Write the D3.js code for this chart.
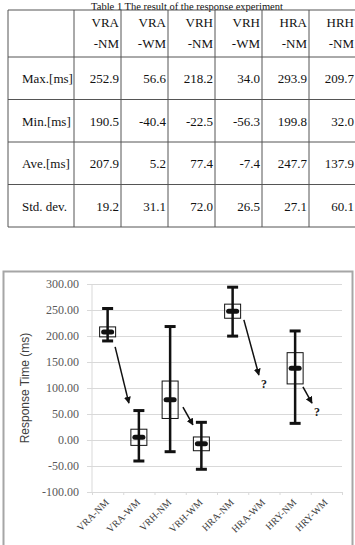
<!DOCTYPE html>
<html>
<head>
<meta charset="utf-8">
<script src="https://cdn.jsdelivr.net/npm/d3@7"></script>
<style>
  body { margin: 0; background: #fff; }
  svg { display: block; }
</style>
</head>
<body>
<svg id="chart" width="355" height="545"></svg>
<script>
// table data
var tableCols = ["VRA-NM", "VRA-WM", "VRH-NM", "VRH-WM", "HRA-NM", "HRH-NM"];
var tableRows = ["Max.[ms]", "Min.[ms]", "Ave.[ms]", "Std. dev."];
var maxMs = [252.9, 56.6, 218.2, 34.0, 293.9, 209.7];
var minMs = [190.5, -40.4, -22.5, -56.3, 199.8, 32.0];
var aveMs = [207.9, 5.2, 77.4, -7.4, 247.7, 137.9];
var stdMs = [19.2, 31.1, 72.0, 26.5, 27.1, 60.1];

// chart categories, and which table column each one shows (null = empty)
var categories = ["VRA-NM", "VRA-WM", "VRH-NM", "VRH-WM", "HRA-NM", "HRA-WM", "HRY-NM", "HRY-WM"];
var catSource = [0, 1, 2, 3, 4, null, 5, null];
var yTicks = [-100, -50, 0, 50, 100, 150, 200, 250, 300];

// arrows: from (category pos, value) to (category pos, value), with label
var arrowFromPos = [0.74, 2.91, 4.86, 6.75];
var arrowFromVal = [179, 63, 231, 102];
var arrowToPos = [1.18, 3.23, 5.34, 7.04];
var arrowToVal = [71, 29, 125, 71];
var arrowLabel = ["", "", "?", "?"];

var svgContainer = d3.select("#chart");
var serif = "'Liberation Serif', 'DejaVu Serif', serif";

// plain hyphen instead of unicode minus
function fmtN(spec) {
  var f = d3.format(spec);
  return function (v) { return f(v).replace("\u2212", "-"); };
}

// ---------- table ----------
var fmt = fmtN(".1f");
var tableValues = [maxMs, minMs, aveMs, stdMs];

var colX = d3.scaleBand().domain(tableCols).range([74, 356]);
var rowY = d3.scaleBand().domain(tableRows).range([57, 227]);

svgContainer
  .append("text")
  .attr("x", 187)
  .attr("y", 9.5)
  .attr("text-anchor", "middle")
  .style("font-family", serif)
  .style("font-size", "10.5px")
  .attr("fill", "#111")
  .text("Table 1 The result of the response experiment");

var table = svgContainer.append("g");

// horizontal lines
var hLines = [10].concat(tableRows.map(function (r) { return rowY(r); })).concat([227]);
table
  .selectAll(".hline")
  .data(hLines)
  .enter()
  .append("line")
  .attr("x1", 8)
  .attr("x2", 356)
  .attr("y1", function (d) { return d; })
  .attr("y2", function (d) { return d; })
  .attr("stroke", "#555")
  .attr("stroke-width", 1);

// vertical lines
var vLines = [8].concat(tableCols.map(function (c) { return colX(c); }));
table
  .selectAll(".vline")
  .data(vLines)
  .enter()
  .append("line")
  .attr("x1", function (d) { return d; })
  .attr("x2", function (d) { return d; })
  .attr("y1", 10)
  .attr("y2", 227)
  .attr("stroke", "#555")
  .attr("stroke-width", 1);

tableCols.forEach(function (c) {
  var parts = c.split("-");
  var xr = colX(c) + colX.bandwidth() - 2;
  table.append("text").attr("x", xr).attr("y", 27).attr("text-anchor", "end")
    .style("font-family", serif).style("font-size", "13px").attr("fill", "#111").text(parts[0]);
  table.append("text").attr("x", xr).attr("y", 48).attr("text-anchor", "end")
    .style("font-family", serif).style("font-size", "13px").attr("fill", "#111").text("-" + parts[1]);
});

tableRows.forEach(function (r, ri) {
  var yb = rowY(r) + 26;
  table.append("text").attr("x", 22).attr("y", yb)
    .style("font-family", serif).style("font-size", "13px").attr("fill", "#111").text(r);
  tableCols.forEach(function (c, ci) {
    table.append("text")
      .attr("x", colX(c) + colX.bandwidth() - 2)
      .attr("y", yb)
      .attr("text-anchor", "end")
      .style("font-family", serif)
      .style("font-size", "13px")
      .attr("fill", "#111")
      .text(fmt(tableValues[ri][ci]));
  });
});

// ---------- chart ----------
svgContainer
  .append("rect")
  .attr("x", 3.5)
  .attr("y", 271.5)
  .attr("width", 349)
  .attr("height", 290)
  .attr("fill", "#fff")
  .attr("stroke", "#a6a6a6")
  .attr("stroke-width", 2);

var plotLeft = 92, plotRight = 342;
var yScale = d3.scaleLinear().domain([-100, 300]).range([492, 284]);
var xScale = d3.scaleBand().domain(categories).range([plotLeft, plotRight]);
var xPos = d3.scaleLinear().domain([0, categories.length]).range([plotLeft, plotRight]);

var chart = svgContainer.append("g");

// y axis with gridlines (ticks stick out 5px left of the plot)
var yAxisGen = d3.axisLeft(yScale)
  .tickValues(yTicks)
  .tickFormat(fmtN(".2f"))
  .tickSize(-(plotRight - plotLeft + 5))
  .tickPadding(8);
var yAxis = chart
  .append("g")
  .attr("transform", "translate(" + (plotLeft - 5) + ",0)")
  .call(yAxisGen);
yAxis.select(".domain").remove();
yAxis.selectAll(".tick line").attr("stroke", "#d9d9d9").attr("stroke-width", 1);
yAxis.selectAll(".tick text")
  .style("font-family", serif)
  .style("font-size", "12px")
  .attr("fill", "#595959");

// vertical axis line
chart
  .append("line")
  .attr("x1", plotLeft).attr("x2", plotLeft)
  .attr("y1", yScale(300)).attr("y2", yScale(-100))
  .attr("stroke", "#d9d9d9");

// x axis
var xAxisGen = d3.axisBottom(xPos).tickValues(d3.range(0, categories.length + 1)).tickSize(3).tickFormat("");
var xAxis = chart
  .append("g")
  .attr("transform", "translate(0," + yScale(-100) + ")")
  .call(xAxisGen);
xAxis.select(".domain").attr("stroke", "#d9d9d9");
xAxis.selectAll(".tick line").attr("stroke", "#d9d9d9");

chart
  .selectAll(".catLabel")
  .data(categories)
  .enter()
  .append("text")
  .attr("text-anchor", "end")
  .attr("transform", function (d) {
    return "translate(" + (xScale(d) + xScale.bandwidth() / 2 + 2) + "," + (yScale(-100) + 11) + ") rotate(-45)";
  })
  .style("font-family", serif)
  .style("font-size", "10px")
  .attr("fill", "#404040")
  .text(function (d) { return d; });

// y label
chart
  .append("text")
  .attr("transform", "translate(29," + ((yScale(300) + yScale(-100)) / 2) + ") rotate(-90)")
  .attr("text-anchor", "middle")
  .style("font-family", "'Liberation Sans', Arial, sans-serif")
  .style("font-size", "12px")
  .attr("fill", "#404040")
  .text("Response Time (ms)");

// box plots: whisker min..max, box ave +/- std/2, mean marker
var boxes = categories
  .map(function (c, i) {
    var s = catSource[i];
    if (s === null) return null;
    return { cat: c, max: maxMs[s], min: minMs[s], ave: aveMs[s], std: stdMs[s] };
  })
  .filter(function (d) { return d; });

var cx = function (d) { return xScale(d.cat) + xScale.bandwidth() / 2; };

var g = chart.selectAll(".box").data(boxes).enter().append("g");

g.append("rect")
  .attr("x", function (d) { return cx(d) - 8; })
  .attr("y", function (d) { return yScale(d.ave + d.std / 2); })
  .attr("width", 16)
  .attr("height", function (d) { return yScale(d.ave - d.std / 2) - yScale(d.ave + d.std / 2); })
  .attr("fill", "none")
  .attr("stroke", "#111")
  .attr("stroke-width", 1);

g.append("line")
  .attr("x1", cx).attr("x2", cx)
  .attr("y1", function (d) { return yScale(d.max); })
  .attr("y2", function (d) { return yScale(d.min); })
  .attr("stroke", "#111")
  .attr("stroke-width", 2.5);

["max", "min"].forEach(function (k) {
  g.append("line")
    .attr("x1", function (d) { return cx(d) - 5.5; })
    .attr("x2", function (d) { return cx(d) + 5.5; })
    .attr("y1", function (d) { return yScale(d[k]); })
    .attr("y2", function (d) { return yScale(d[k]); })
    .attr("stroke", "#111")
    .attr("stroke-width", 3);
});

g.append("line")
  .attr("x1", function (d) { return cx(d) - 4; })
  .attr("x2", function (d) { return cx(d) + 4; })
  .attr("y1", function (d) { return yScale(d.ave); })
  .attr("y2", function (d) { return yScale(d.ave); })
  .attr("stroke", "#111")
  .attr("stroke-width", 5)
  .attr("stroke-linecap", "round");

// arrows
svgContainer
  .append("defs")
  .append("marker")
  .attr("id", "head")
  .attr("viewBox", "0 0 10 10")
  .attr("refX", 9)
  .attr("refY", 5)
  .attr("markerWidth", 7)
  .attr("markerHeight", 7)
  .attr("markerUnits", "userSpaceOnUse")
  .attr("orient", "auto")
  .append("path")
  .attr("d", "M0,0 L10,5 L0,10 z")
  .attr("fill", "#111");

arrowFromPos.forEach(function (p, i) {
  chart
    .append("line")
    .attr("x1", xPos(p))
    .attr("y1", yScale(arrowFromVal[i]))
    .attr("x2", xPos(arrowToPos[i]))
    .attr("y2", yScale(arrowToVal[i]))
    .attr("stroke", "#111")
    .attr("stroke-width", 1.5)
    .attr("marker-end", "url(#head)");
  if (arrowLabel[i]) {
    chart
      .append("text")
      .attr("x", xPos(arrowToPos[i]) + 5)
      .attr("y", yScale(arrowToVal[i]) + 13)
      .attr("text-anchor", "middle")
      .style("font-family", serif)
      .style("font-size", "12px")
      .style("font-weight", "bold")
      .attr("fill", "#222")
      .text(arrowLabel[i]);
  }
});
</script>
</body>
</html>
